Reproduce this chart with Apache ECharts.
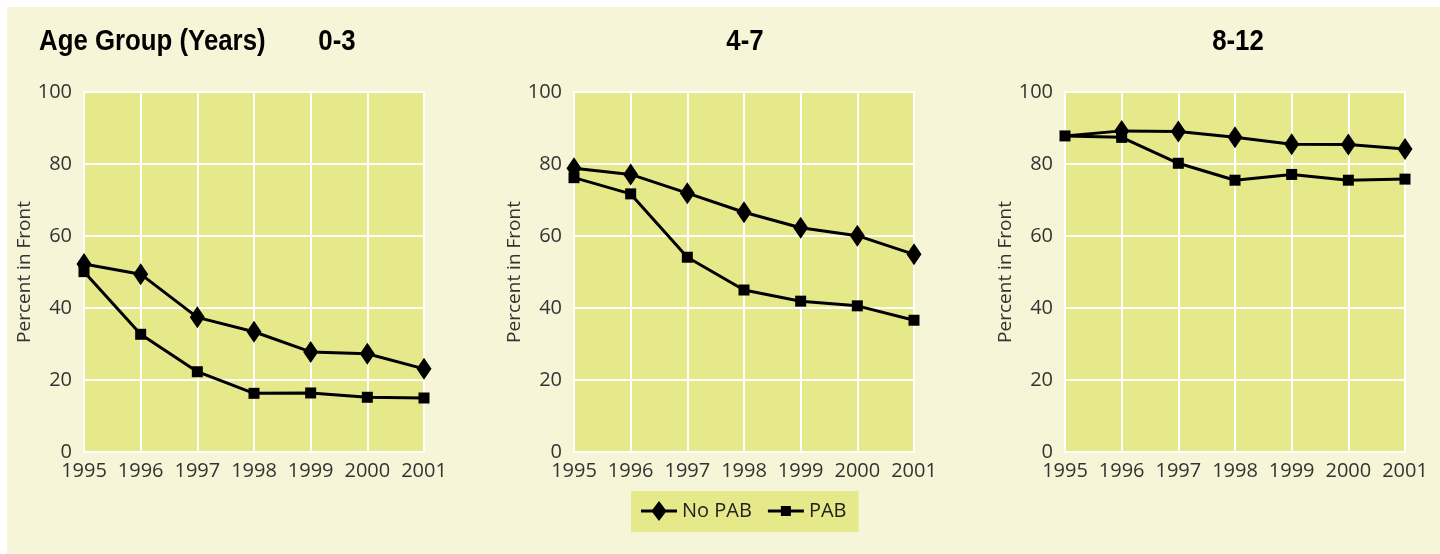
<!DOCTYPE html>
<html>
<head>
<meta charset="utf-8">
<script src="https://cdn.jsdelivr.net/npm/echarts@6/dist/echarts.min.js"></script>
<style>
html,body{margin:0;padding:0;background:#ffffff;}
#c{width:1440px;height:554px;}
</style>
</head>
<body>
<div id="c"></div>
<script>
const years = ['1995','1996','1997','1998','1999','2000','2001'];
const panelTitles = ['0-3','4-7','8-12'];
const mainTitle = 'Age Group (Years)';
const yAxisName = 'Percent in Front';
const yTicks = [0, 20, 40, 60, 80, 100];
const seriesNames = ['No PAB', 'PAB'];

const noPab_0_3 = [52.2, 49.4, 37.4, 33.4, 27.8, 27.3, 23.1];
const pab_0_3   = [50.1, 32.7, 22.3, 16.3, 16.4, 15.2, 15.0];
const noPab_4_7 = [78.8, 77.1, 71.9, 66.6, 62.3, 60.1, 54.9];
const pab_4_7   = [76.2, 71.7, 54.1, 45.0, 41.9, 40.6, 36.6];
const noPab_8_12 = [87.8, 89.2, 89.0, 87.4, 85.5, 85.4, 84.2];
const pab_8_12   = [87.8, 87.4, 80.2, 75.5, 77.1, 75.5, 75.8];

const panels = [
  {noPab: noPab_0_3, pab: pab_0_3},
  {noPab: noPab_4_7, pab: pab_4_7},
  {noPab: noPab_8_12, pab: pab_8_12}
];

const gridLefts = [84, 574, 1065];
const titleCenters = [337, 745, 1238];
const plotBg = '#e6e98a';
const panelBg = '#f6f5d8';
const labelFont = "'Open Sans', 'Noto Sans', sans-serif";
const titleFont = "'Liberation Sans', Arial, sans-serif";

const grids = [], xAxes = [], yAxes = [], series = [];
panels.forEach((p, i) => {
  grids.push({left: gridLefts[i], top: 92, width: 340, height: 360,
    show: true, backgroundColor: plotBg, borderColor: '#ffffff', borderWidth: 2, containLabel: false});
  xAxes.push({type: 'category', gridIndex: i, data: years, boundaryGap: false,
    axisLine: {show: false}, axisTick: {show: false},
    axisLabel: {color: '#333333', fontSize: 20, fontFamily: labelFont, margin: 9, interval: 0},
    splitLine: {show: true, lineStyle: {color: '#ffffff', width: 2}}});
  yAxes.push({type: 'value', gridIndex: i, min: yTicks[0], max: yTicks[yTicks.length-1], interval: 20,
    name: yAxisName, nameLocation: 'middle', nameGap: 40,
    nameTextStyle: {color: '#333333', fontSize: 19, fontFamily: labelFont},
    axisLine: {show: false}, axisTick: {show: false},
    axisLabel: {color: '#333333', fontSize: 20, fontFamily: labelFont, margin: 12},
    splitLine: {show: true, lineStyle: {color: '#ffffff', width: 2}}});
  // where both series start at the same point, only the square marker is visible
  const noPabData = p.noPab.map((v, k) => (Math.abs(v - p.pab[k]) < 0.3 ? {value: v, symbol: 'none'} : v));
  series.push({name: seriesNames[0], type: 'line', xAxisIndex: i, yAxisIndex: i, data: noPabData,
    symbol: 'diamond', symbolSize: [15, 22], itemStyle: {color: '#000000'},
    lineStyle: {color: '#000000', width: 3}, z: 3, animation: false});
  series.push({name: seriesNames[1], type: 'line', xAxisIndex: i, yAxisIndex: i, data: p.pab,
    symbol: 'rect', symbolSize: 11, itemStyle: {color: '#000000'},
    lineStyle: {color: '#000000', width: 3}, z: 4, animation: false});
});

const graphics = [
  {type: 'rect', shape: {x: 7, y: 7, width: 1433, height: 547}, style: {fill: panelBg}, z: -10, silent: true},
  {type: 'text', x: 39, y: 42, scaleX: 0.89, style: {x: 0, y: 0, text: mainTitle, fill: '#000000', font: "bold 29px " + titleFont, textAlign: 'left', textVerticalAlign: 'middle'}, z: 10}
];
panelTitles.forEach((t, i) => {
  graphics.push({type: 'text', x: titleCenters[i], y: 42, scaleX: 0.89, style: {x: 0, y: 0, text: t, fill: '#000000', font: "bold 29px " + titleFont, textAlign: 'center', textVerticalAlign: 'middle'}, z: 10});
});

const diamondIcon = 'path://M0,8.5 L11.5,8.5 L18,0 L24.5,8.5 L36,8.5 L36,11.5 L24.5,11.5 L18,20 L11.5,11.5 L0,11.5 Z';
const squareIcon = 'path://M0,3.5 L13,3.5 L13,0 L23,0 L23,3.5 L36,3.5 L36,6.5 L23,6.5 L23,10 L13,10 L13,6.5 L0,6.5 Z';

const chart = echarts.init(document.getElementById('c'));
chart.setOption({
  animation: false,
  backgroundColor: '#ffffff',
  graphic: graphics,
  grid: grids,
  xAxis: xAxes,
  yAxis: yAxes,
  legend: {data: [{name: seriesNames[0], icon: diamondIcon}, {name: seriesNames[1], icon: squareIcon}],
    left: 631, top: 491, padding: [10, 12, 11, 10], itemGap: 16, symbolKeepAspect: true,
    backgroundColor: plotBg, itemWidth: 36, itemHeight: 20,
    textStyle: {color: '#222222', fontSize: 20, fontFamily: labelFont}},
  series: series
});
</script>
</body>
</html>
